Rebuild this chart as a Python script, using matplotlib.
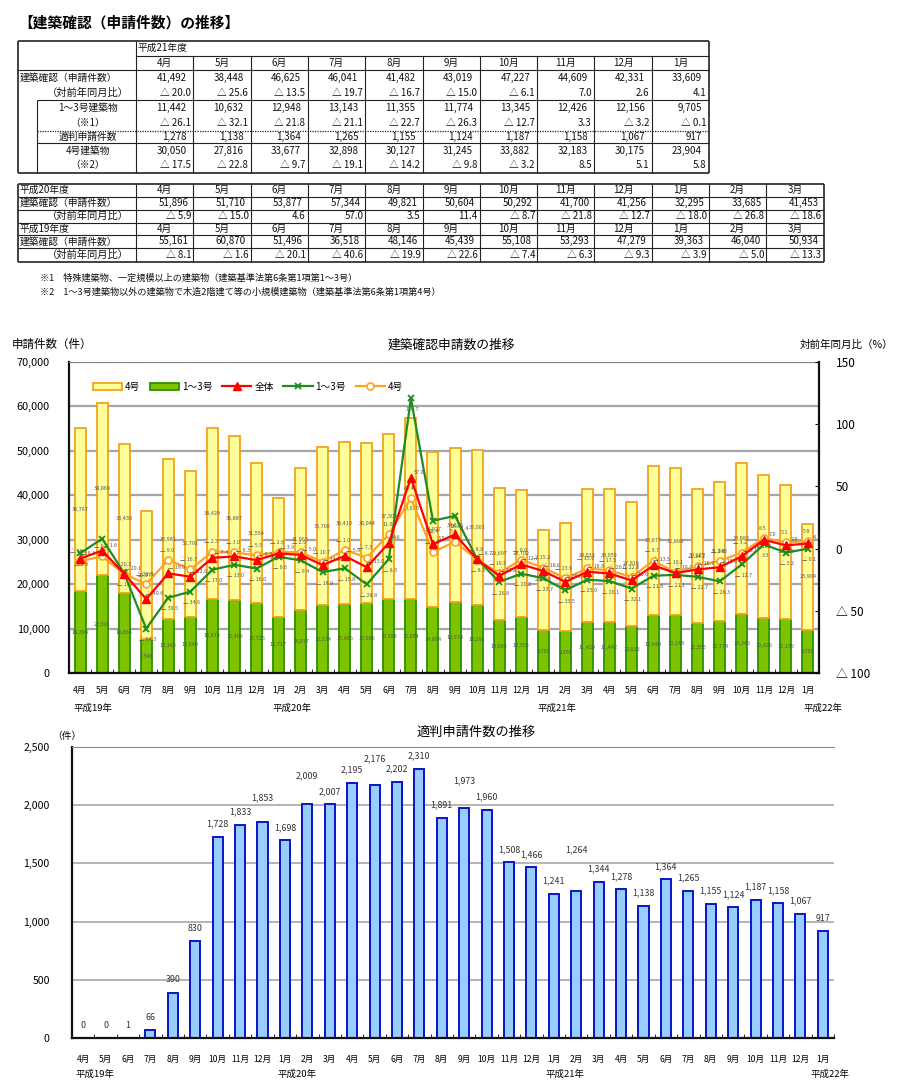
import matplotlib
matplotlib.use('Agg')
import matplotlib.pyplot as plt
import matplotlib.transforms as mtransforms
import numpy as np

plt.rcParams['font.family'] = ['Noto Sans CJK JP', 'DejaVu Sans']

W, H = 900, 1084

# ---------------- data ----------------
fy_months = ['4月', '5月', '6月', '7月', '8月', '9月', '10月', '11月', '12月', '1月', '2月', '3月']
months34 = fy_months + fy_months + fy_months[:10]

# 建築確認 total (H19, H20, H21 fiscal years)
total_h19 = [55161, 60870, 51496, 36518, 48146, 45439, 55108, 53293, 47279, 39363, 46040, 50934]
total_h20 = [51896, 51710, 53877, 57344, 49821, 50604, 50292, 41700, 41256, 32295, 33685, 41453]
total_h21 = [41492, 38448, 46625, 46041, 41482, 43019, 47227, 44609, 42331, 33609]

# year-on-year % (all)
pct_h19 = [-8.1, -1.6, -20.1, -40.6, -19.9, -22.6, -7.4, -6.3, -9.3, -3.9, -5.0, -13.3]
pct_h20 = [-5.9, -15.0, 4.6, 57.0, 3.5, 11.4, -8.7, -21.8, -12.7, -18.0, -26.8, -18.6]
pct_h21 = [-20.0, -25.6, -13.5, -19.7, -16.7, -15.0, -6.1, 7.0, 2.6, 4.1]

# 1~3号 / 4号 counts (Apr H19 .. Jan H22)
count13 = [18394, 22001, 18066, 7546, 12165, 12648, 16679, 16406, 15725, 12717, 14077, 15234,
           15486, 15666, 16568, 16654, 14894, 15978, 15291, 12003, 12554, 9702, 9368, 11420,
           11442, 10632, 12948, 13143, 11355, 11774, 13345, 12426, 12156, 9705]
count4 = [36767, 38869, 33430, 28972, 35981, 32791, 38429, 36887, 31554, 26646, 31963, 35700,
          36410, 36044, 37309, 40690, 34927, 34626, 35001, 29697, 28702, 22593, 24317, 30033,
          30050, 27816, 33677, 32898, 30127, 31245, 33882, 32183, 30175, 23904]

# year-on-year % lines
pct_total = pct_h19 + pct_h20 + pct_h21
pct_13 = [-3.9, 8.0, -19.8, -64.3, -39.5, -34.6, -17.0, -13.0, -16.0, -6.6, -9.4, -18.9,
          -15.8, -28.8, -8.3, 120.7, 22.4, 26.3, -8.3, -26.8, -20.2, -23.7, -33.5, -25.0,
          -26.1, -32.1, -21.8, -21.1, -22.7, -26.3, -12.7, 3.3, -3.2, -0.1]
pct_4 = [-10.1, -6.3, -20.3, -28.5, -9.0, -16.7, -2.5, -3.0, -5.5, -2.6, -2.9, -10.7,
         -1.0, -7.3, 11.6, 40.4, -2.9, 5.6, -8.9, -19.5, -9.0, -15.2, -23.9, -15.9,
         -17.5, -22.8, -9.7, -19.1, -14.2, -9.8, -3.2, 8.5, 5.1, 5.8]

# 適判申請件数
tekihan = [0, 0, 1, 66, 390, 830, 1728, 1833, 1853, 1698, 2009, 2007,
           2195, 2176, 2202, 2310, 1891, 1973, 1960, 1508, 1466, 1241, 1264, 1344,
           1278, 1138, 1364, 1265, 1155, 1124, 1187, 1158, 1067, 917]

era_labels = ['平成19年', '平成20年', '平成21年', '平成22年']


def fmt_pct(v):
    return '△ {:.1f}'.format(abs(v)) if v < 0 else '{:.1f}'.format(v)


def fmt_n(v):
    return '{:,}'.format(v)


fig = plt.figure(figsize=(W / 100, H / 100), dpi=100)

# ---------------- tables (pixel coordinates) ----------------
ax0 = fig.add_axes([0, 0, 1, 1])
ax0.set_xlim(0, W)
ax0.set_ylim(H, 0)
ax0.axis('off')

LC = '#222222'
TF = 7


def hline(y, x0, x1, lw=0.8, ls='-'):
    ax0.plot([x0, x1], [y, y], color=LC, lw=lw, ls=ls, solid_capstyle='butt')


def vline(x, y0, y1, lw=0.8):
    ax0.plot([x, x], [y0, y1], color=LC, lw=lw, solid_capstyle='butt')


def txt(x, y, s, ha='left', size=TF, **kw):
    ax0.text(x, y, s, ha=ha, va='center', fontsize=size, color='#111111', **kw)


ax0.text(18, 23, '【建築確認（申請件数）の推移】', fontsize=10.6, fontweight='bold',
         va='center', ha='left')

c0, cw = 136, 57.3
# table 1
r1 = [41, 55.5, 70, 85, 100, 115, 130.5, 143.3, 158, 173]
right1 = c0 + 10 * cw
hline(r1[0], 18, right1, 1.2)
hline(r1[1], c0, right1)
hline(r1[2], 18, right1)
hline(r1[4], 37, right1)
hline(r1[6], 37, right1, 0.9, (0, (1, 1)))
hline(r1[7], 37, right1)
hline(r1[9], 18, right1, 1.2)
vline(18, r1[0], r1[9], 1.2)
vline(37, r1[4], r1[9])
vline(c0, r1[0], r1[9])
for k in range(1, 10):
    vline(c0 + k * cw, r1[1], r1[9])
vline(right1, r1[0], r1[9], 1.2)

mid1 = [(r1[i] + r1[i + 1]) / 2 for i in range(9)]
txt(138, mid1[0], '平成21年度')
txt(20, mid1[2], '建築確認（申請件数）')
txt(47, mid1[3], '（対前年同月比）', size=7.4)
txt(88, mid1[4], '1～3号建築物', ha='center')
txt(88, mid1[5], '（※1）', ha='center')
txt(88, mid1[6], '適判申請件数', ha='center')
txt(88, mid1[7], '4号建築物', ha='center')
txt(88, mid1[8], '（※2）', ha='center')
rows1 = [total_h21, pct_h21, count13[24:], pct_13[24:], tekihan[24:], count4[24:], pct_4[24:]]
for j in range(10):
    xl = c0 + j * cw
    txt(xl + cw / 2, mid1[1], fy_months[j], ha='center')
    for k, row in enumerate(rows1):
        v = row[j]
        if isinstance(v, float):
            txt(xl + cw - 2.5, mid1[k + 2], fmt_pct(v), ha='right')
        else:
            txt(xl + cw - 7, mid1[k + 2], fmt_n(v), ha='right')

# table 2
r2 = [183.5, 196.5, 209.5, 222.5, 234.5, 248, 262]
right2 = c0 + 12 * cw
for i, y in enumerate(r2):
    hline(y, 18, right2, 1.2 if i in (0, 6) else 0.8)
vline(18, r2[0], r2[-1], 1.2)
for k in range(0, 12):
    vline(c0 + k * cw, r2[0], r2[-1])
vline(right2, r2[0], r2[-1], 1.2)
mid2 = [(r2[i] + r2[i + 1]) / 2 for i in range(6)]
blocks = [('平成20年度', total_h20, pct_h20, 0), ('平成19年度', total_h19, pct_h19, 3)]
for name, tot, pct, r in blocks:
    txt(20, mid2[r], name)
    txt(20, mid2[r + 1], '建築確認（申請件数）')
    txt(47, mid2[r + 2], '（対前年同月比）', size=7.4)
    for j in range(12):
        xl = c0 + j * cw
        txt(xl + cw / 2, mid2[r], fy_months[j], ha='center')
        txt(xl + cw - 5, mid2[r + 1], fmt_n(tot[j]), ha='right')
        txt(xl + cw - 2, mid2[r + 2], fmt_pct(pct[j]), ha='right')

txt(40, 278, '※1　特殊建築物、一定規模以上の建築物（建築基準法第6条第1項第1～3号）', size=6.6)
txt(40, 292, '※2　1～3号建築物以外の建築物で木造2階建て等の小規模建築物（建築基準法第6条第1項第4号）', size=6.6)

# ---------------- combo chart ----------------
x = np.arange(len(months34))
axc = fig.add_axes([69 / W, 1 - 673 / H, 750 / W, 311 / H])
b13 = axc.bar(x, count13, 0.5, color='#7DC400', edgecolor='#2F8F00', lw=1.3, label='1～3号', zorder=2)
b4 = axc.bar(x, count4, 0.5, bottom=count13, color='#FFFF99', edgecolor='#F2A21C', lw=1.3,
             label='4号', zorder=2)
for i in range(len(x)):
    axc.text(x[i], count13[i] / 2, fmt_n(count13[i]), ha='center', va='center',
             fontsize=4.0, color='#555555', zorder=3)
    axc.text(x[i], count13[i] + count4[i] / 2, fmt_n(count4[i]), ha='center', va='center',
             fontsize=4.0, color='#555555', zorder=3)
axc.set_xlim(-0.5, len(x) - 0.5)
axc.set_ylim(0, 70000)
axc.set_yticks(range(0, 70001, 10000))
axc.set_yticklabels([fmt_n(v) for v in range(0, 70001, 10000)], fontsize=7.8)
axc.yaxis.grid(True, color='#A6A6A6', lw=1.6)
axc.set_axisbelow(True)
axc.set_xticks(x)
axc.set_xticklabels(months34, fontsize=6.2)
axc.set_xticks(np.arange(-0.5, len(x), 1), minor=True)
axc.tick_params(axis='x', which='major', length=0, pad=9)
axc.tick_params(axis='x', which='minor', length=3, direction='in')
axc.tick_params(axis='y', length=0, pad=14)
for s in ['left', 'bottom']:
    axc.spines[s].set_linewidth(1.6)
    axc.spines[s].set_color('#111111')
axc.spines['top'].set_color('#888888')
axc.spines['right'].set_visible(False)

axr = axc.twinx()
axr.set_ylim(-100, 150)
l4, = axr.plot(x, pct_4, color='#FFA31A', lw=1.6, marker='o', ms=5, mfc='white', mew=1.2,
               label='4号', zorder=3)
l13, = axr.plot(x, pct_13, color='#1E8C1E', lw=1.6, marker='x', ms=5, mew=1.3,
                label='1～3号', zorder=4)
lt, = axr.plot(x, pct_total, color='#FF0000', lw=1.6, marker='^', ms=5.5,
               label='全体', zorder=5)
for i in range(len(x)):
    axr.annotate(fmt_pct(pct_total[i]), (x[i], pct_total[i]), xytext=(6, 4),
                 textcoords='offset points', fontsize=3.9, color='#555555', ha='center', va='center')
    axr.annotate(fmt_pct(pct_13[i]), (x[i], pct_13[i]), xytext=(1, -8),
                 textcoords='offset points', fontsize=3.9, color='#555555', ha='center', va='center')
    axr.annotate(fmt_pct(pct_4[i]), (x[i], pct_4[i]), xytext=(-1, 7),
                 textcoords='offset points', fontsize=3.9, color='#555555', ha='center', va='center')
axr.set_yticks(range(-100, 151, 50))
axr.set_yticklabels([fmt_pct(v).replace('.0', '') if v < 0 else str(v) for v in range(-100, 151, 50)],
                    fontsize=8.5)
axr.tick_params(axis='y', length=3, direction='in', pad=12)
for s in ['left', 'bottom', 'top']:
    axr.spines[s].set_visible(False)
axr.spines['right'].set_linewidth(1.6)
axr.spines['right'].set_color('#111111')

axr.legend([b4, b13, lt, l13, l4], ['4号', '1～3号', '全体', '1～3号', '4号'],
           loc='center left', bbox_to_anchor=(0.02, 0.92), ncol=5, frameon=False,
           fontsize=7, handlelength=3.0, handletextpad=0.3, columnspacing=1.0)

trc = mtransforms.blended_transform_factory(axc.transData, axc.transAxes)
for pos, lab in zip([0.6, 9.6, 21.6, 33.7], era_labels):
    axc.text(pos, -0.113, lab, transform=trc, ha='center', va='center', fontsize=6.8)

fig.text(451 / W, 1 - 345 / H, '建築確認申請数の推移', ha='center', va='center', fontsize=9.2)
fig.text(12 / W, 1 - 344 / H, '申請件数（件）', ha='left', va='center', fontsize=8.3)
fig.text(800 / W, 1 - 345 / H, '対前年同月比（%）', ha='left', va='center', fontsize=7.6)

# ---------------- 適判 chart ----------------
axb = fig.add_axes([72 / W, 1 - 1038 / H, 762 / W, 291 / H])
axb.bar(x, tekihan, 0.45, color='#99CCFF', edgecolor='#0A14C8', lw=1.4, zorder=2)
raise_extra = {8: 100, 10: 130, 13: 110, 17: 125, 22: 240}
for i, v in enumerate(tekihan):
    axb.text(x[i], v + 110 + raise_extra.get(i, 0), fmt_n(v), ha='center', va='center',
             fontsize=6.4, color='#333333')
axb.set_xlim(-0.5, len(x) - 0.5)
axb.set_ylim(0, 2500)
axb.set_yticks(range(0, 2501, 500))
axb.set_yticklabels([fmt_n(v) for v in range(0, 2501, 500)], fontsize=7.6)
axb.yaxis.grid(True, color='#A0A0A0', lw=1.1)
axb.set_axisbelow(True)
axb.set_xticks(x)
axb.set_xticklabels(months34, fontsize=6.2)
axb.set_xticks(np.arange(-0.5, len(x), 1), minor=True)
axb.tick_params(axis='x', which='major', length=0, pad=12)
axb.tick_params(axis='x', which='minor', length=3, direction='in')
axb.tick_params(axis='y', length=0, pad=16)
for s in ['left', 'bottom']:
    axb.spines[s].set_linewidth(1.6)
    axb.spines[s].set_color('#111111')
axb.spines['top'].set_color('#888888')
axb.spines['right'].set_visible(False)

trb = mtransforms.blended_transform_factory(axb.transData, axb.transAxes)
for pos, lab in zip([0.53, 9.54, 21.5, 33.3], era_labels):
    axb.text(pos, -0.124, lab, transform=trb, ha='center', va='center', fontsize=6.8)

fig.text(476 / W, 1 - 732 / H, '適判申請件数の推移', ha='center', va='center', fontsize=9.5)
fig.text(67 / W, 1 - 736 / H, '（件）', ha='center', va='center', fontsize=7)

fig.savefig('out.png', dpi=100)
